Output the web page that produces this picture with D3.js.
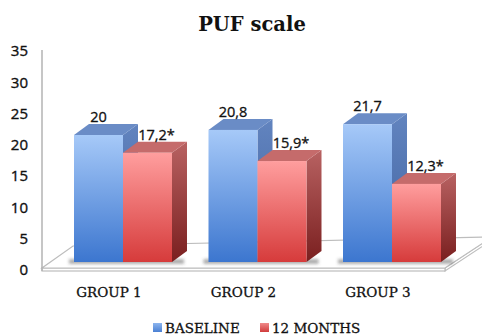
<!DOCTYPE html>
<html>
<head>
<meta charset="utf-8">
<script src="https://cdn.jsdelivr.net/npm/d3@7/dist/d3.min.js"></script>
<style>
  html, body { margin: 0; padding: 0; background: #ffffff; }
  svg { display: block; }
</style>
</head>
<body>
<svg id="chart" width="482" height="335"></svg>
<script>
// Chart data
const groups = ["GROUP 1", "GROUP 2", "GROUP 3"];
const seriesNames = ["BASELINE", "12 MONTHS"];
const baseline = [20, 20.8, 21.7];
const months12 = [17.2, 15.9, 12.3];
const valueLabels = [["20", "20,8", "21,7"], ["17,2*", "15,9*", "12,3*"]];
const yTicks = [0, 5, 10, 15, 20, 25, 30, 35];

const seriesValues = [baseline, months12];

const W = 482, H = 335;
const svg = d3.select("#chart");
const defs = svg.append("defs");

// 3D column depth offset
const depthX = 15, depthY = -11;

// Scales: bars are drawn on the front plane, tick labels sit on the wall plane
const x0 = d3.scaleBand().domain(groups)
  .range([55.75, 55.75 + 3 * 134.5])
  .paddingInner(0.2714).paddingOuter(0.1357);
const x1 = d3.scaleBand().domain(seriesNames).range([0, x0.bandwidth()]);
const yBar = d3.scaleLinear().domain([0, 35]).range([262, 262 - 35 * 6.35]);
const yWall = d3.scaleLinear().domain([0, 35]).range([270, 51]);

// Gradients
function vGrad(id, stops) {
  const g = defs.append("linearGradient").attr("id", id)
    .attr("x1", 0).attr("y1", 0).attr("x2", 0).attr("y2", 1);
  stops.forEach(s => g.append("stop").attr("offset", s[0]).attr("stop-color", s[1]));
}
vGrad("blueFront", [[0, "#a6c9f8"], [1, "#3c76cf"]]);
vGrad("blueSide", [[0, "#6284bf"], [1, "#3f62a0"]]);
vGrad("redFront", [[0, "#ff9e9e"], [1, "#d63b3b"]]);
vGrad("redSide", [[0, "#b86262"], [1, "#7a1f1f"]]);
vGrad("legBlue", [[0, "#8db5ee"], [1, "#4a80d3"]]);
vGrad("legRed", [[0, "#f08a8a"], [1, "#d03c3c"]]);

const blur = defs.append("filter").attr("id", "soft")
  .attr("x", "-20%").attr("y", "-100%").attr("width", "140%").attr("height", "300%");
blur.append("feGaussianBlur").attr("stdDeviation", 1.8);

const faceStyle = [
  { front: "url(#blueFront)", top: "#6a8cc6", side: "url(#blueSide)" },
  { front: "url(#redFront)", top: "#c56b6b", side: "url(#redSide)" }
];

// Floor slab
const floorFront = 268, floorThick = 3;
const floorLeft = 42, floorRight = 445;
const floorBackLeft = [73, 246], floorBackRight = [492, 237];
const floor = svg.append("g").attr("fill", "#ffffff").attr("stroke", "#bdbdbd").attr("stroke-width", 1.2);
floor.append("path").attr("d",
  `M${floorRight},${floorFront} L${floorBackRight[0]},${floorBackRight[1]} ` +
  `L${floorBackRight[0]},${floorBackRight[1] + floorThick} L${floorRight},${floorFront + floorThick} Z`);
floor.append("rect").attr("x", floorLeft).attr("y", floorFront)
  .attr("width", floorRight - floorLeft).attr("height", floorThick);
floor.append("path").attr("d",
  `M${floorLeft},${floorFront} L${floorRight},${floorFront} L${floorBackRight[0]},${floorBackRight[1]} ` +
  `L${floorBackLeft[0]},${floorBackLeft[1]} Z`);

// Vertical axis line
svg.append("line")
  .attr("x1", 42).attr("x2", 42)
  .attr("y1", yWall(35) - 1).attr("y2", floorFront + floorThick)
  .attr("stroke", "#b3b3b3").attr("stroke-width", 1.5);

// Tick labels
const axis = d3.axisLeft(yWall).tickValues(yTicks).tickSize(0).tickPadding(0)
  .tickFormat(d3.format("d"));
const axisG = svg.append("g").attr("transform", "translate(28,0)").call(axis);
axisG.select(".domain").remove();
axisG.selectAll("text")
  .attr("font-family", "'Open Sans', sans-serif")
  .attr("font-size", 15)
  .attr("fill", "#111")
  .attr("stroke", "#111")
  .attr("stroke-width", 0.35);

// Shadows under each column pair
const shadowG = svg.append("g").attr("filter", "url(#soft)");
groups.forEach(g => {
  shadowG.append("rect")
    .attr("x", x0(g) - 5)
    .attr("y", yBar(0) - 3)
    .attr("width", x0.bandwidth() + depthX + 2)
    .attr("height", 5)
    .attr("fill", "#4d4d4d")
    .attr("opacity", 0.45);
});

// Columns
const bars = svg.append("g");
groups.forEach((g, gi) => {
  seriesNames.forEach((s, si) => {
    const v = seriesValues[si][gi];
    const bx = x0(g) + x1(s);
    const bw = x1.bandwidth();
    const yt = yBar(v), yb = yBar(0);
    const st = faceStyle[si];
    // right side face
    bars.append("path")
      .attr("d", `M${bx + bw},${yt} L${bx + bw + depthX},${yt + depthY} L${bx + bw + depthX},${yb + depthY} L${bx + bw},${yb} Z`)
      .attr("fill", st.side);
    // top face
    bars.append("path")
      .attr("d", `M${bx},${yt} L${bx + depthX},${yt + depthY} L${bx + bw + depthX},${yt + depthY} L${bx + bw},${yt} Z`)
      .attr("fill", st.top);
    // front face
    bars.append("rect")
      .attr("x", bx).attr("y", yt)
      .attr("width", bw).attr("height", yb - yt)
      .attr("fill", st.front);
  });
});

// Value labels
const labelShift = [0, 9];
const labels = svg.append("g")
  .attr("font-family", "'Open Sans', sans-serif")
  .attr("font-size", 14.5)
  .attr("fill", "#111")
  .attr("stroke", "#111")
  .attr("stroke-width", 0.3)
  .attr("text-anchor", "middle");
groups.forEach((g, gi) => {
  seriesNames.forEach((s, si) => {
    const v = seriesValues[si][gi];
    labels.append("text")
      .attr("x", x0(g) + x1(s) + x1.bandwidth() / 2 + labelShift[si])
      .attr("y", yBar(v) - 13)
      .text(valueLabels[si][gi]);
  });
});

// Category labels
svg.append("g")
  .attr("font-family", "'DejaVu Serif', serif")
  .attr("font-size", 13.5)
  .attr("fill", "#111")
  .attr("stroke", "#111")
  .attr("stroke-width", 0.3)
  .attr("text-anchor", "middle")
  .selectAll("text").data(groups).join("text")
  .attr("x", d => x0(d) + x0.bandwidth() / 2 - 14)
  .attr("y", 297)
  .text(d => d);

// Title
svg.append("text")
  .attr("x", 252).attr("y", 31)
  .attr("text-anchor", "middle")
  .attr("font-family", "'DejaVu Serif', serif")
  .attr("font-weight", "bold")
  .attr("font-size", 19.5)
  .attr("fill", "#111")
  .text("PUF scale");

// Legend
const legend = svg.append("g")
  .attr("font-family", "'DejaVu Serif', serif")
  .attr("font-size", 13.5)
  .attr("fill", "#111")
  .attr("stroke", "#111")
  .attr("stroke-width", 0.3);
const legendX = [153, 260];
seriesNames.forEach((s, i) => {
  legend.append("rect")
    .attr("x", legendX[i]).attr("y", 323)
    .attr("width", 9).attr("height", 9)
    .attr("stroke", "none")
    .attr("fill", i === 0 ? "url(#legBlue)" : "url(#legRed)");
  legend.append("text")
    .attr("x", legendX[i] + 12).attr("y", 333)
    .text(s);
});
</script>
</body>
</html>
